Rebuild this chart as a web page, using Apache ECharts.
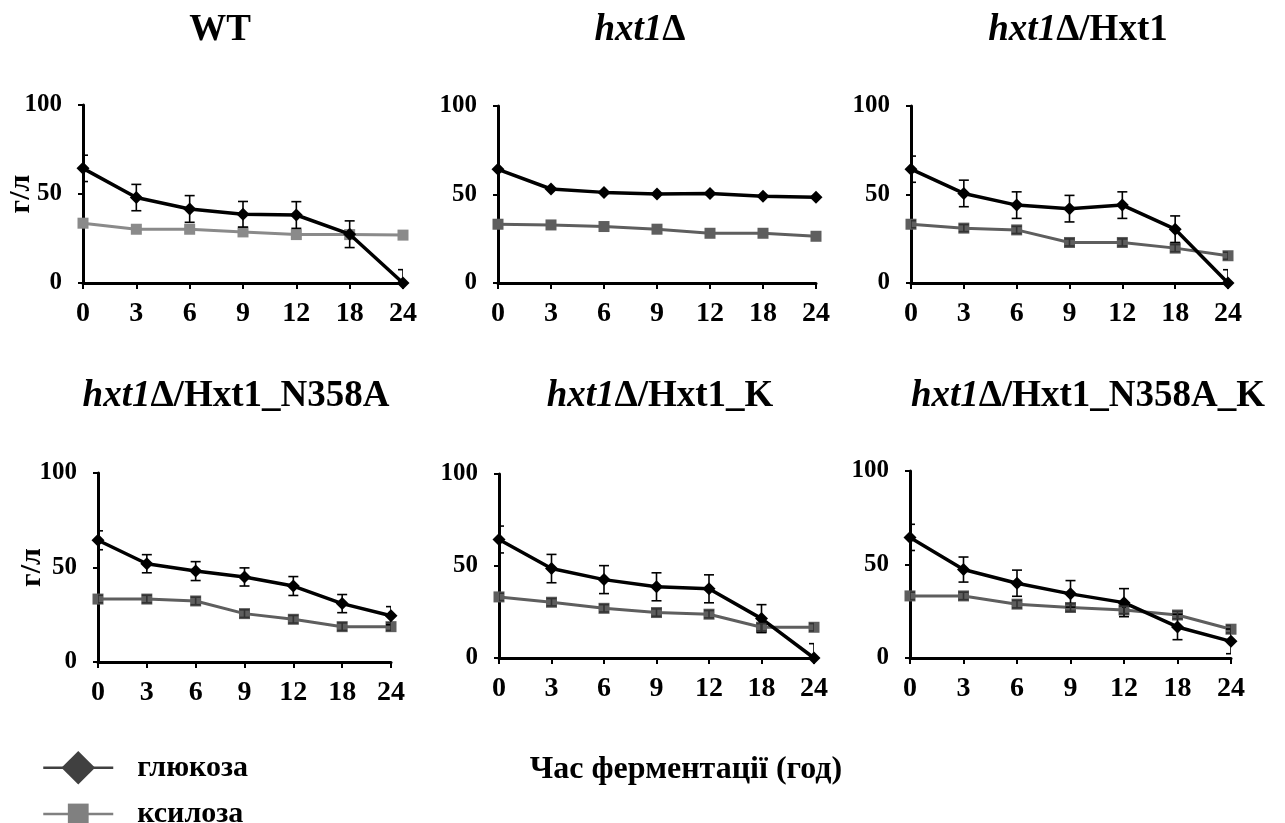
<!DOCTYPE html>
<html>
<head>
<meta charset="utf-8">
<title>Глюкоза і ксилоза під час ферментації</title>
<script src="https://cdn.jsdelivr.net/npm/echarts@6/dist/echarts.min.js"></script>
<style>
  html, body { margin: 0; padding: 0; background: #fff; }
  #chart { width: 1285px; height: 823px; }
</style>
</head>
<body>
<div id="chart"></div>
<script>
// Sampling times (h)
const hours = ['0', '3', '6', '9', '12', '18', '24'];
const yTicks = [0, 50, 100];

// Strain names (rich text: italic gene name, upright rest)
const strainTitles = [
  '{n|WT}',
  '{i|hxt1}{n|Δ}',
  '{i|hxt1}{n|Δ/Hxt1}',
  '{i|hxt1}{n|Δ/Hxt1_N358A}',
  '{i|hxt1}{n|Δ/Hxt1_K}',
  '{i|hxt1}{n|Δ/Hxt1_N358A_K}'
];

// Concentrations, g/l, with standard deviations
const wtGlucose      = [64.4, 48.0, 41.6, 38.6, 38.2, 27.4, 0];
const wtGlucoseSd    = [7.4, 7.4, 7.5, 7.2, 7.5, 7.5, 7.5];
const wtXylose       = [33.6, 30.2, 30.2, 28.7, 27.2, 27.2, 26.9];
const wtXyloseSd     = [0, 0, 0, 0, 0, 0, 0];

const delGlucose     = [64.2, 53.1, 51.2, 50.3, 50.6, 49.0, 48.4];
const delGlucoseSd   = [0, 0, 0, 0, 0, 0, 0];
const delXylose      = [33.2, 32.8, 31.9, 30.4, 28.1, 28.1, 26.4];
const delXyloseSd    = [0, 0, 0, 0, 0, 0, 0];

const hxtGlucose     = [64.3, 50.6, 44.0, 42.0, 44.0, 30.4, 0];
const hxtGlucoseSd   = [7.4, 7.5, 7.5, 7.5, 7.5, 7.5, 7.5];
const hxtXylose      = [33.2, 31.0, 30.0, 22.9, 22.9, 19.7, 15.4];
const hxtXyloseSd    = [2, 2, 2, 2, 2, 2, 2];

const n358aGlucose   = [64.4, 52.0, 48.1, 45.0, 40.2, 30.9, 24.5];
const n358aGlucoseSd = [5, 4.8, 5, 4.8, 5, 4.8, 4.8];
const n358aXylose    = [33.3, 33.3, 32.3, 25.6, 22.6, 18.7, 18.7];
const n358aXyloseSd  = [2, 2, 2, 2, 2, 2, 2];

const kGlucose       = [64.4, 48.6, 42.6, 38.7, 37.6, 21.4, 0];
const kGlucoseSd     = [7.3, 7.7, 7.6, 7.6, 7.6, 7.6, 7.8];
const kXylose        = [33.2, 30.3, 27.0, 24.7, 23.8, 16.7, 16.7];
const kXyloseSd      = [2, 2, 2, 2, 2, 2, 2];

const n358aKGlucose   = [64.5, 47.3, 40.0, 34.3, 29.6, 16.6, 8.9];
const n358aKGlucoseSd = [7, 6.7, 7, 7.1, 7.5, 6.8, 6.6];
const n358aKXylose    = [33.2, 33.2, 28.8, 27.0, 25.7, 23.0, 15.4];
const n358aKXyloseSd  = [2, 2, 2, 2, 2, 2, 2];

const glucoseSets = [wtGlucose, delGlucose, hxtGlucose, n358aGlucose, kGlucose, n358aKGlucose];
const glucoseSds  = [wtGlucoseSd, delGlucoseSd, hxtGlucoseSd, n358aGlucoseSd, kGlucoseSd, n358aKGlucoseSd];
const xyloseSets  = [wtXylose, delXylose, hxtXylose, n358aXylose, kXylose, n358aKXylose];
const xyloseSds   = [wtXyloseSd, delXyloseSd, hxtXyloseSd, n358aXyloseSd, kXyloseSd, n358aKXyloseSd];

// Plot areas: [x of y-axis, x of last tick, y of 100, y of 0]
const boxes = [
  [83, 403, 105, 283],
  [498, 816, 106, 283],
  [911, 1228, 106, 283],
  [98, 391, 473, 662],
  [499, 814, 474, 658],
  [910, 1231, 471, 658]
];
const titlePos = [[220, 30], [640, 30], [1078, 30], [236, 396], [660, 396], [1088, 396]];
const yNameGap = [47, 0, 0, 51, 0, 0];
const xyloseColors = ['#8a8a8a', '#5e5e5e', '#5e5e5e', '#5e5e5e', '#5e5e5e', '#5e5e5e'];

const FONT = '"Liberation Serif", "Times New Roman", serif';

const grids = [], xAxes = [], yAxes = [], series = [], graphics = [];

function errorSeries(idx, values, sds, color) {
  return {
    type: 'custom',
    xAxisIndex: idx,
    yAxisIndex: idx,
    silent: true,
    clip: true,
    z: 4,
    encode: { x: 0, y: 1 },
    data: values.map((v, k) => [k, v, sds[k]]),
    renderItem: function (params, api) {
      const k = api.value(0), v = api.value(1), e = api.value(2);
      if (!e) return null;
      const hi = api.coord([k, v + e]);
      const lo = api.coord([k, v - e]);
      const cap = 5;
      const st = { stroke: color, lineWidth: 1.6 };
      return {
        type: 'group',
        children: [
          { type: 'line', shape: { x1: hi[0], y1: hi[1], x2: lo[0], y2: lo[1] }, style: st },
          { type: 'line', shape: { x1: hi[0] - cap, y1: hi[1], x2: hi[0] + cap, y2: hi[1] }, style: st },
          { type: 'line', shape: { x1: lo[0] - cap, y1: lo[1], x2: lo[0] + cap, y2: lo[1] }, style: st }
        ]
      };
    }
  };
}

boxes.forEach((b, i) => {
  grids.push({
    left: b[0], top: b[2], width: b[1] - b[0], height: b[3] - b[2],
    containLabel: false, outerBoundsMode: 'none'
  });
  xAxes.push({
    type: 'category', gridIndex: i, data: hours, boundaryGap: false,
    axisLine: { show: true, lineStyle: { color: '#000', width: 3 } },
    axisTick: { show: true, interval: 0, length: 6, lineStyle: { color: '#000', width: 2 } },
    axisLabel: { interval: 0, margin: 17, color: '#000', fontFamily: FONT, fontWeight: 'bold', fontSize: 28 },
    splitLine: { show: false }
  });
  yAxes.push({
    type: 'value', gridIndex: i, min: yTicks[0], max: yTicks[yTicks.length - 1], interval: yTicks[1] - yTicks[0],
    name: (i % 3 === 0) ? 'г/л' : '',
    nameLocation: 'middle', nameRotate: 90, nameGap: yNameGap[i], nameMoveOverlap: false,
    nameTextStyle: { color: '#000', fontFamily: FONT, fontWeight: 'bold', fontSize: 30 },
    axisLine: { show: true, lineStyle: { color: '#000', width: 3 } },
    axisTick: { show: true, length: 5, lineStyle: { color: '#000', width: 2 } },
    axisLabel: { margin: 21, color: '#000', fontFamily: FONT, fontWeight: 'bold', fontSize: 25 },
    splitLine: { show: false }
  });

  series.push({
    name: 'глюкоза', type: 'line', xAxisIndex: i, yAxisIndex: i,
    data: glucoseSets[i], symbol: 'diamond', symbolSize: 13, z: 3,
    lineStyle: { color: '#000', width: 3.5 }, itemStyle: { color: '#000' }
  });
  series.push({
    name: 'ксилоза', type: 'line', xAxisIndex: i, yAxisIndex: i,
    data: xyloseSets[i], symbol: 'rect', symbolSize: 11, z: 2,
    lineStyle: { color: xyloseColors[i], width: 3 }, itemStyle: { color: xyloseColors[i] }
  });
  series.push(errorSeries(i, glucoseSets[i], glucoseSds[i], '#000'));
  series.push(errorSeries(i, xyloseSets[i], xyloseSds[i], '#333'));

  graphics.push({
    type: 'text', x: titlePos[i][0], y: titlePos[i][1],
    style: {
      text: strainTitles[i], align: 'center', verticalAlign: 'middle', fill: '#000',
      fontFamily: FONT, fontWeight: 'bold', fontSize: 37,
      rich: {
        i: { fontFamily: FONT, fontWeight: 'bold', fontStyle: 'italic', fontSize: 37, fill: '#000' },
        n: { fontFamily: FONT, fontWeight: 'bold', fontSize: 37, fill: '#000' }
      }
    }
  });
});

graphics.push({
  type: 'text', x: 686, y: 770,
  style: {
    text: 'Час ферментації (год)', align: 'center', verticalAlign: 'middle', fill: '#000',
    fontFamily: FONT, fontWeight: 'bold', fontSize: 32
  }
});

const legendText = { color: '#000', fontFamily: FONT, fontWeight: 'bold', fontSize: 30, padding: [0, 0, 0, 19] };

const option = {
  animation: false,
  backgroundColor: '#fff',
  grid: grids,
  xAxis: xAxes,
  yAxis: yAxes,
  series: series,
  graphic: graphics,
  legend: [
    {
      orient: 'vertical', left: 37, top: 746, itemWidth: 70, itemHeight: 42, selectedMode: false,
      textStyle: legendText,
      data: [{ name: 'глюкоза', itemStyle: { color: '#404040' }, lineStyle: { color: '#404040', width: 2.5 } }]
    },
    {
      orient: 'vertical', left: 37, top: 794, itemWidth: 70, itemHeight: 26, selectedMode: false,
      textStyle: legendText,
      data: [{ name: 'ксилоза', itemStyle: { color: '#808080' }, lineStyle: { color: '#808080', width: 2.5 } }]
    }
  ]
};

const chart = echarts.init(document.getElementById('chart'), null, { renderer: 'canvas' });
chart.setOption(option);
</script>
</body>
</html>
